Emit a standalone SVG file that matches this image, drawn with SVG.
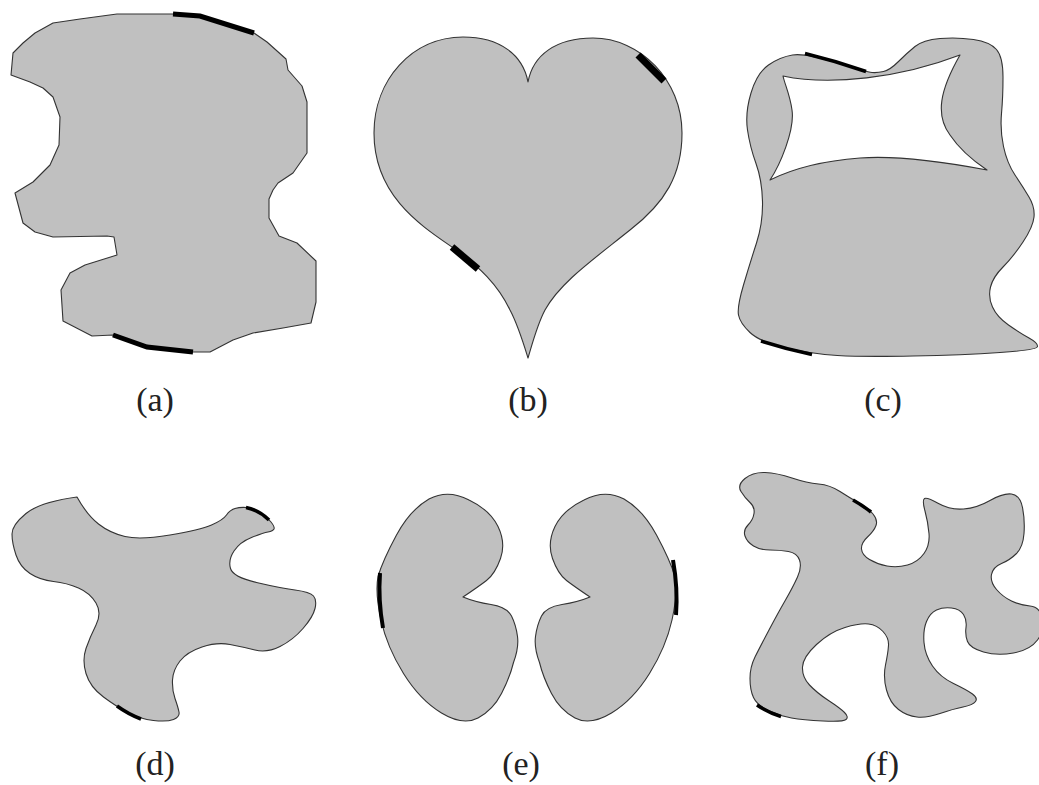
<svg xmlns="http://www.w3.org/2000/svg" width="1039" height="785" viewBox="0 0 1039 785">
<style>
.shape{fill:#c0c0c0;stroke:#333;stroke-width:1.1;stroke-linejoin:round}
.mark{fill:none;stroke:#000;stroke-linecap:butt}
.lbl{font-family:"Liberation Serif","Times New Roman",serif;font-size:34px;fill:#222;text-anchor:middle}
</style>
<rect width="1039" height="785" fill="#fff"/>
<g id="shape-a">
<polygon class="shape" points="117,14 173,14 200,16 254,33 267,42 286,59 288,70 302,86 307,102 307,153 293,173 278,183 273,190 269,199 269,218 279,236 297,243 316,261 316,302 311,323 283,328 253,333 233,340 210,352 193,352 147,347 113,335 92,336 63,321 61,290 70,273 85,265 117,255 114,237 107,236 53,237 35,232 23,223 15,193 33,182 50,165 59,145 60,117 53,97 43,88 30,82 11,75 13,53 23,43 35,33 53,23 80,19"/>
<polyline class="mark" stroke-width="5" points="173,14 200,16 254,33"/>
<polyline class="mark" stroke-width="5" points="113,335 147,347 193,352"/>
<text class="lbl" x="155" y="411">(a)</text>
</g>
<g id="shape-b">
<path class="shape" d="M528,82 C523,55 500,37 463,37 C412,37 374,80 374,133 C374,195 420,225 452,247 C480,267 498,285 510,310 C518,325 524,345 528,358 C532,345 537,325 545,310 C560,283 590,262 630,230 C665,203 682,175 682,133 C682,80 640,38 593,38 C556,38 533,55 528,82 Z"/>
<line class="mark" stroke-width="7" x1="638" y1="55" x2="664" y2="81"/>
<line class="mark" stroke-width="7" x1="452" y1="247" x2="478" y2="269"/>
<text class="lbl" x="528" y="411">(b)</text>
</g>
<g id="shape-c">
<path class="shape" fill-rule="evenodd" d="M792.5,55 Q805,53 836,62.5 Q867,72 872,72.5 Q877,73 883.5,71.5 Q890,70 898.5,61.5 Q907,53 915,46.5 Q923,40 940,38.5 Q957,37 973.5,39.5 Q990,42 996.5,49.5 Q1003,57 1003,77 Q1003,97 1001.5,113.5 Q1000,130 1003.5,146.5 Q1007,163 1015,175 Q1023,187 1029,197 Q1035,207 1034,217 Q1033,227 1023,242 Q1013,257 1003,267 Q993,277 990.5,287 Q988,297 992.5,307 Q997,317 1008.5,325 Q1020,333 1029,338 Q1038,343 1037.5,346.5 Q1037,350 1000,352.5 Q963,355 913,356 Q863,357 837.5,355.5 Q812,354 786,348 Q760,342 750,332.5 Q740,323 738.5,315 Q737,307 743.5,285 Q750,263 756.5,243 Q763,223 762.5,201.5 Q762,180 756,163.5 Q750,147 747.5,130 Q745,113 751,93 Q757,73 768.5,65 Q780,57 792.5,55 Z M783,76 C830,86 900,78 960,55 C940,90 935,115 950,135 C960,150 975,162 987,170 C950,163 900,155 860,158 C820,161 790,170 770,180 C780,165 795,130 792,110 C790,95 785,85 783,76 Z"/>
<path class="mark" stroke-width="3.5" d="M805,53.5 Q836,61 866,71.5"/>
<path class="mark" stroke-width="3.5" d="M812,354.5 Q786,349 761,341"/>
<text class="lbl" x="883" y="411">(c)</text>
</g>
<g id="shape-d">
<path class="shape" d="M77,497 Q87,515 98.5,524 Q110,533 125,536.5 Q140,540 170,535 Q200,530 211.5,525 Q223,520 226.5,515 Q230,510 235,508.5 Q240,507 246.5,507.5 Q253,508 260,512.5 Q267,517 271,522 Q275,527 274,529 Q273,531 268,532 Q263,533 251.5,537.5 Q240,542 234,551 Q228,560 230.5,568.5 Q233,577 256.5,582.5 Q280,588 295,590 Q310,592 313.5,596 Q317,600 315,608.5 Q313,617 303,628.5 Q293,640 280,646.5 Q267,653 255,650 Q243,647 230,644.5 Q217,642 202,647 Q187,652 180,661 Q173,670 172.5,680 Q172,690 175,698.5 Q178,707 179,712 Q180,717 173.5,719.5 Q167,722 153.5,720.5 Q140,719 128.5,713 Q117,707 103.5,697 Q90,687 86,673.5 Q82,660 86,648.5 Q90,637 96,625 Q102,613 96,603 Q90,593 78.5,588 Q67,583 53.5,581.5 Q40,580 30,573.5 Q20,567 16,555 Q12,543 12,534 Q12,525 26,513.5 Q40,502 77,497 Z"/>
<path class="mark" stroke-width="3.5" d="M269,520 Q259,510 246,507.5"/>
<path class="mark" stroke-width="3.5" d="M117,706 Q128,714 141,719"/>
<text class="lbl" x="155" y="775">(d)</text>
</g>
<g id="shape-e">
<path id="kidney" class="shape" d="M463,597 Q475,602 491,604.5 Q507,607 511.5,616 Q516,625 517.5,636.5 Q519,648 513.5,662.5 Q510,677 501.5,693.5 Q493,710 478,718 Q463,726 441.5,713 Q420,700 403.5,673.5 Q387,647 381,620 Q375,593 378,576.5 Q383,560 396.5,535 Q410,510 429,499 Q448,489 469,500 Q490,510 498,526.5 Q506,543 500.5,558.5 Q495,574 486.5,580.5 Q478,587 463,597 Z"/>
<use href="#kidney" transform="translate(1053,0) scale(-1,1)"/>
<path class="mark" stroke-width="4" d="M380,573 Q378,600 383,628"/>
<path class="mark" stroke-width="4" d="M673,560 Q678,588 676,615"/>
<text class="lbl" x="521" y="775">(e)</text>
</g>
<g id="shape-f">
<path class="shape" d="M741,491.5 Q737,485 745,478.5 Q753,472 765,472.5 Q777,473 792,478 Q807,483 818.5,484 Q830,485 840,491.5 Q850,498 859,503 Q868,508 873,514 Q878,520 876,525.5 Q874,531 867.5,537 Q861,543 861.5,549 Q862,555 869.5,559.5 Q877,564 887,566 Q897,568 907.5,565 Q918,562 924,553.5 Q930,545 929,533.5 Q928,522 925,511 Q922,500 924.5,498.5 Q927,497 938.5,503.5 Q950,510 963.5,509 Q977,508 990,500.5 Q1003,493 1011.5,494 Q1020,495 1022.5,507.5 Q1025,520 1024,533.5 Q1023,547 1016.5,553.5 Q1010,560 1001.5,563.5 Q993,567 991.5,574.5 Q990,582 996.5,589.5 Q1003,597 1011.5,601 Q1020,605 1030,606 Q1040,607 1042.5,618.5 Q1045,630 1037.5,640 Q1030,650 1013.5,653 Q997,656 983.5,652 Q970,648 967.5,641.5 Q965,635 966,627.5 Q967,620 963.5,614.5 Q960,609 951.5,608 Q943,607 936.5,610 Q930,613 926.5,621.5 Q923,630 924,642.5 Q925,655 932.5,666 Q940,677 953.5,683.5 Q967,690 972.5,694 Q978,698 975.5,701.5 Q973,705 963,707 Q953,709 940,713.5 Q927,718 917,717 Q907,716 898.5,709.5 Q890,703 886.5,690 Q883,677 885.5,665 Q888,653 888.5,645.5 Q889,638 883,631.5 Q877,625 868.5,624 Q860,623 845,627.5 Q830,632 816.5,644.5 Q803,657 802.5,667 Q802,677 809.5,685 Q817,693 828.5,700.5 Q840,708 844.5,712.5 Q849,717 846,719.5 Q843,722 823,721 Q803,720 791.5,718 Q780,716 768.5,710.5 Q757,705 753.5,697.5 Q750,690 750,678.5 Q750,667 755,657 Q760,647 769,630 Q778,613 785.5,600 Q793,587 797.5,577 Q802,567 799.5,560 Q797,553 788.5,551.5 Q780,550 770,550 Q760,550 753.5,546 Q747,542 745,536 Q743,530 748,525 Q753,520 754,513.5 Q755,507 750,502.5 Q745,498 741,491.5 Z"/>
<path class="mark" stroke-width="3.5" d="M853,500 Q862,505 871,512"/>
<path class="mark" stroke-width="3.5" d="M757,705 Q768,712.5 781,716.5"/>
<text class="lbl" x="882" y="775">(f)</text>
</g>
</svg>
